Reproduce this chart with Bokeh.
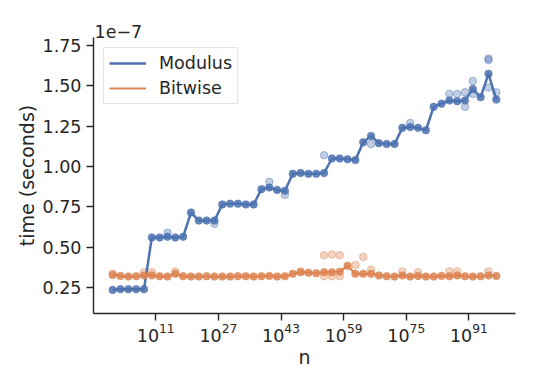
from bokeh.plotting import figure
from bokeh.models import (Range1d, FixedTicker, LogTickFormatter, NumeralTickFormatter,
                          Legend, LegendItem)
from bokeh.embed import file_html
from bokeh.resources import INLINE

# ---- data (time in units of 1e-7 s) ----
n = [1e0, 1e2, 1e4, 1e6, 1e8, 1e10, 1e12, 1e14, 1e16, 1e18,
     1e20, 1e22, 1e24, 1e26, 1e28, 1e30, 1e32, 1e34, 1e36, 1e38,
     1e40, 1e42, 1e44, 1e46, 1e48, 1e50, 1e52, 1e54, 1e56, 1e58,
     1e60, 1e62, 1e64, 1e66, 1e68, 1e70, 1e72, 1e74, 1e76, 1e78,
     1e80, 1e82, 1e84, 1e86, 1e88, 1e90, 1e92, 1e94, 1e96, 1e98]

modulus = [0.235, 0.24, 0.24, 0.24, 0.24, 0.56, 0.56, 0.565, 0.56, 0.565,
           0.715, 0.665, 0.665, 0.665, 0.765, 0.77, 0.77, 0.765, 0.765, 0.86,
           0.87, 0.855, 0.85, 0.955, 0.96, 0.955, 0.955, 0.96, 1.05, 1.05,
           1.045, 1.04, 1.15, 1.19, 1.145, 1.14, 1.14, 1.24, 1.245, 1.24,
           1.225, 1.37, 1.39, 1.41, 1.405, 1.41, 1.48, 1.43, 1.575, 1.415]

bitwise = [0.328, 0.322, 0.318, 0.32, 0.325, 0.325, 0.32, 0.318, 0.335, 0.32,
           0.318, 0.318, 0.32, 0.318, 0.318, 0.318, 0.32, 0.32, 0.318, 0.32,
           0.322, 0.318, 0.32, 0.335, 0.345, 0.342, 0.338, 0.345, 0.345, 0.348,
           0.385, 0.335, 0.335, 0.335, 0.325, 0.32, 0.318, 0.325, 0.318, 0.322,
           0.318, 0.318, 0.322, 0.32, 0.325, 0.32, 0.318, 0.32, 0.325, 0.322]

# individual runs that stand apart from the mean
modulus_runs_n = [1e14, 1e26, 1e40, 1e44, 1e54, 1e66, 1e76, 1e86, 1e88,
                  1e90, 1e90, 1e92, 1e92, 1e96, 1e96, 1e96, 1e98]
modulus_runs_t = [0.59, 0.645, 0.905, 0.825, 1.07, 1.14, 1.27, 1.45, 1.45,
                  1.46, 1.37, 1.53, 1.45, 1.67, 1.66, 1.49, 1.46]

bitwise_runs_n = [1e0, 1e8, 1e10, 1e16, 1e48, 1e54, 1e56, 1e58, 1e54, 1e56, 1e58,
                  1e62, 1e64, 1e66, 1e74, 1e78, 1e86, 1e88, 1e96]
bitwise_runs_t = [0.335, 0.345, 0.345, 0.35, 0.35, 0.45, 0.455, 0.45, 0.32, 0.32, 0.32,
                  0.39, 0.44, 0.36, 0.35, 0.345, 0.35, 0.35, 0.35]

x_ticks = [1e11, 1e27, 1e43, 1e59, 1e75, 1e91]
y_ticks = [0.25, 0.5, 0.75, 1.0, 1.25, 1.5, 1.75]

BLUE = "#4C72B0"
ORANGE = "#DD8452"
INK = "#262626"
FONT = "DejaVu Sans"

p = figure(width=524, height=370, x_axis_type="log",
           x_range=Range1d(10 ** -4.9, 10 ** 102.9), y_range=Range1d(0.089, 1.80),
           output_backend="svg", toolbar_location=None,
           min_border_left=93, min_border_right=9, min_border_top=37, min_border_bottom=57)

p.title.text = "1e\u22127"
p.title.text_font = FONT
p.title.text_font_size = "17.5px"
p.title.text_font_style = "normal"
p.title.text_color = INK
p.title.align = "left"
p.title.standoff = 0
p.title.offset = 1

p.xgrid.visible = False
p.ygrid.visible = False
p.outline_line_color = None
p.background_fill_color = "white"

for ax in (p.xaxis[0], p.yaxis[0]):
    ax.axis_line_color = INK
    ax.axis_line_width = 1.4
    ax.major_tick_line_color = INK
    ax.major_tick_line_width = 1.4
    ax.major_tick_out = 7
    ax.major_tick_in = 0
    ax.minor_tick_line_color = None
    ax.major_label_text_font = FONT
    ax.major_label_text_font_size = "17.5px"
    ax.major_label_text_color = INK
    ax.axis_label_text_font = FONT
    ax.axis_label_text_font_size = "19px"
    ax.axis_label_text_font_style = "normal"
    ax.axis_label_text_color = INK

p.xaxis.major_label_standoff = 2
p.xaxis.axis_label_standoff = 1
p.yaxis.major_label_standoff = 5
p.yaxis.axis_label_standoff = 2

p.xaxis.ticker = FixedTicker(ticks=x_ticks)
p.xaxis.formatter = LogTickFormatter()
p.yaxis.ticker = FixedTicker(ticks=y_ticks)
p.yaxis.formatter = NumeralTickFormatter(format="0.00")
p.xaxis.axis_label = "n"
p.yaxis.axis_label = "time (seconds)"

# individual runs
p.scatter(modulus_runs_n, modulus_runs_t, size=7.5, fill_color=BLUE, fill_alpha=0.35,
          line_color=BLUE, line_alpha=0.45)
p.scatter(bitwise_runs_n, bitwise_runs_t, size=7.5, fill_color=ORANGE, fill_alpha=0.35,
          line_color=ORANGE, line_alpha=0.45)

# mean lines
l_mod = p.line(n, modulus, line_color=BLUE, line_width=2.5)
p.scatter(n, modulus, size=7.5, fill_color=BLUE, fill_alpha=0.85, line_color=BLUE,
          line_alpha=0.6)
l_bit = p.line(n, bitwise, line_color=ORANGE, line_width=2.2)
p.scatter(n, bitwise, size=7.5, fill_color=ORANGE, fill_alpha=0.85, line_color=ORANGE,
          line_alpha=0.6)

legend = Legend(items=[LegendItem(label="Modulus", renderers=[l_mod]),
                       LegendItem(label="Bitwise", renderers=[l_bit])],
                location="top_left")
legend.margin = 10
legend.padding = 5
legend.spacing = 5
legend.glyph_width = 37
legend.glyph_height = 20
legend.label_standoff = 13
legend.label_text_font = FONT
legend.label_text_font_size = "17.5px"
legend.label_text_color = INK
legend.border_line_color = "#cccccc"
legend.border_line_width = 1
legend.background_fill_color = "white"
legend.background_fill_alpha = 0.8
p.add_layout(legend)

with open("out.html", "w") as f:
    f.write(file_html(p, INLINE))
